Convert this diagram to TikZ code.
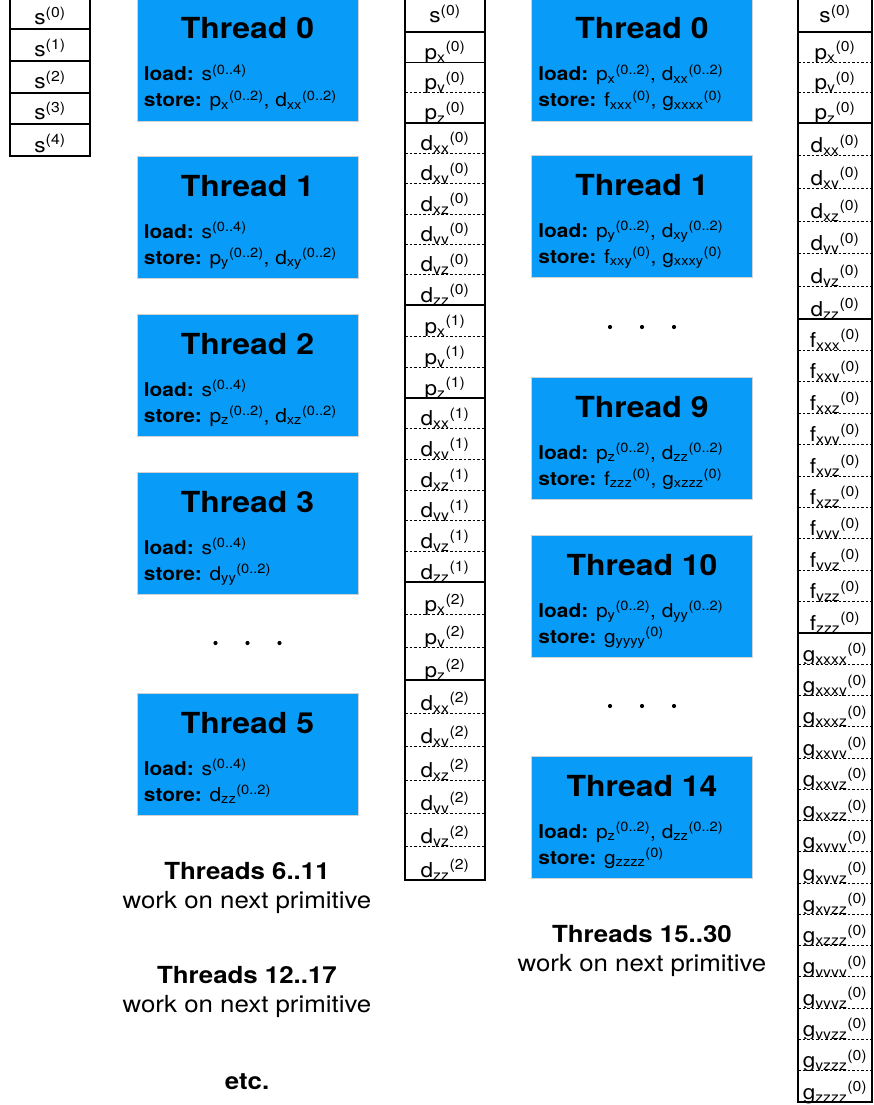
\documentclass[tikz,border=0pt]{standalone}
\usepackage{fontspec}
\setmainfont{TeX Gyre Heros}[FakeStretch=1.1]
\usetikzlibrary{positioning}
\definecolor{threadblue}{RGB}{8,155,248}

% one array element: letter, components, index
\newcommand{\ent}[3]{#1\textsubscript{#2}\textsuperscript{(#3)}}
% left, right, top, bottom, rows, text gap, labels
\newcommand{\cellgroup}[7]{%
  \pgfmathsetmacro{\rowh}{(#4-#3)/#5}
  \foreach \lab [count=\i] in {#7} {
    \pgfmathsetmacro{\ya}{#3+(\i-1)*\rowh}
    \pgfmathsetmacro{\yb}{#3+\i*\rowh}
    \fill[white] (#1,\ya) rectangle (#2,\yb);
    \node[cell] at ({(#1+#2)/2},\yb-#6) {\lab};
  }
  \ifnum#5>1
    \foreach \i in {2,...,#5} {
      \draw[sep] (#1,{#3+(\i-1)*\rowh}) -- (#2,{#3+(\i-1)*\rowh});
    }
  \fi
  \draw[grp] (#1,#3) rectangle (#2,#4);
}

\begin{document}
\begin{tikzpicture}[x=1pt, y=-1pt,
    cell/.style={anchor=base, inner sep=0pt, font=\fontsize{20.5}{22}\selectfont},
    sep/.style={line width=0.9pt, dash pattern=on 2.5pt off 2pt},
    grp/.style={line width=2pt},
    outer/.style={line width=2.6pt},
    tbox/.style={rectangle, anchor=north, fill=threadblue, draw=gray!35, line width=0.6pt,
                 minimum width=221pt, minimum height=122pt, inner sep=0pt},
    ttitle/.style={anchor=base, inner sep=0pt, font=\fontsize{29}{31}\selectfont\bfseries},
    tline/.style={anchor=base west, inner sep=0pt, font=\fontsize{19}{22}\selectfont},
    note/.style={align=center, inner sep=0pt, font=\fontsize{23.5}{29}\selectfont}]
\useasboundingbox (0,0) rectangle (873,1105);

% Input array s
\foreach \ta/\tb/\k in {-3/29/0, 29/61/1, 61/93/2, 93/124/3, 124/156/4} {
  \cellgroup{10}{90}{\ta}{\tb}{1}{4}{{s\textsuperscript{(\k)}}}
}
\draw[outer] (10,-3) rectangle (90,156);

% Middle array: s, p, d for three primitives
\cellgroup{405}{485}{-3}{32}{1}{9}{{s\textsuperscript{(0)}}}
\foreach \k/\pa/\pb/\db in {0/32/123/305, 1/305/398/582, 2/582/680/880} {
  \cellgroup{405}{485}{\pa}{\pb}{3}{3}{\ent{p}{x}{\k},\ent{p}{y}{\k},\ent{p}{z}{\k}}
  \cellgroup{405}{485}{\pb}{\db}{6}{3}{\ent{d}{xx}{\k},\ent{d}{xy}{\k},\ent{d}{xz}{\k},\ent{d}{yy}{\k},\ent{d}{yz}{\k},\ent{d}{zz}{\k}}
}
\draw[line width=1pt] (405,62.3) -- (485,62.3);
\draw[outer] (405,-3) rectangle (485,880);

% Right array: s, p, d, f, g
\cellgroup{798}{872}{-3}{32}{1}{9}{{s\textsuperscript{(0)}}}
\cellgroup{798}{872}{32}{123}{3}{3}{\ent{p}{x}{0},\ent{p}{y}{0},\ent{p}{z}{0}}
\cellgroup{798}{872}{123}{319}{6}{3}{\ent{d}{xx}{0},\ent{d}{xy}{0},\ent{d}{xz}{0},\ent{d}{yy}{0},\ent{d}{yz}{0},\ent{d}{zz}{0}}
\cellgroup{798}{872}{319}{633}{10}{3}{\ent{f}{xxx}{0},\ent{f}{xxy}{0},\ent{f}{xxz}{0},\ent{f}{xyy}{0},\ent{f}{xyz}{0},\ent{f}{xzz}{0},\ent{f}{yyy}{0},\ent{f}{yyz}{0},\ent{f}{yzz}{0},\ent{f}{zzz}{0}}
\cellgroup{798}{872}{633}{1102}{15}{3}{\ent{g}{xxxx}{0},\ent{g}{xxxy}{0},\ent{g}{xxxz}{0},\ent{g}{xxyy}{0},\ent{g}{xxyz}{0},\ent{g}{xxzz}{0},\ent{g}{xyyy}{0},\ent{g}{xyyz}{0},\ent{g}{xyzz}{0},\ent{g}{xzzz}{0},\ent{g}{yyyy}{0},\ent{g}{yyyz}{0},\ent{g}{yyzz}{0},\ent{g}{yzzz}{0},\ent{g}{zzzz}{0}}
\draw[outer] (798,-3) rectangle (872,1102);

% Thread boxes
\foreach \nm/\cx/\ty/\ttl/\ld/\st in {
    tl0/247.5/-1/{Thread 0}/{s\textsuperscript{(0..4)}}/{\ent{p}{x}{0..2}, \ent{d}{xx}{0..2}},
    tl1/247.5/156/{Thread 1}/{s\textsuperscript{(0..4)}}/{\ent{p}{y}{0..2}, \ent{d}{xy}{0..2}},
    tl2/247.5/314/{Thread 2}/{s\textsuperscript{(0..4)}}/{\ent{p}{z}{0..2}, \ent{d}{xz}{0..2}},
    tl3/247.5/472/{Thread 3}/{s\textsuperscript{(0..4)}}/{\ent{d}{yy}{0..2}},
    tl5/247.5/693/{Thread 5}/{s\textsuperscript{(0..4)}}/{\ent{d}{zz}{0..2}},
    tr0/642/-1/{Thread 0}/{\ent{p}{x}{0..2}, \ent{d}{xx}{0..2}}/{\ent{f}{xxx}{0}, \ent{g}{xxxx}{0}},
    tr1/642/155/{Thread 1}/{\ent{p}{y}{0..2}, \ent{d}{xy}{0..2}}/{\ent{f}{xxy}{0}, \ent{g}{xxxy}{0}},
    tr9/642/377/{Thread 9}/{\ent{p}{z}{0..2}, \ent{d}{zz}{0..2}}/{\ent{f}{zzz}{0}, \ent{g}{xzzz}{0}},
    tr10/642/535/{Thread 10}/{\ent{p}{y}{0..2}, \ent{d}{yy}{0..2}}/{\ent{g}{yyyy}{0}},
    tr14/642/756/{Thread 14}/{\ent{p}{z}{0..2}, \ent{d}{zz}{0..2}}/{\ent{g}{zzzz}{0}}} {
  \node[tbox] (\nm) at (\cx,\ty) {};
  \node[ttitle] (\nm-t) at ([yshift=-40pt]\nm.north) {\ttl};
  \node[tline] (\nm-l) at ([xshift=7pt, yshift=-82pt]\nm.north west) {\textbf{load:} \ld};
  \node[tline] (\nm-s) at ([xshift=7pt, yshift=-108pt]\nm.north west) {\textbf{store:} \st};
}

% Ellipses
\foreach \cx/\cy in {247.5/643, 642/327, 642/706} {
  \foreach \dx in {-32,0,32} {
    \fill (\cx+\dx,\cy) circle (2.1);
  }
}

% Notes
\node[note] (more1) at (247,888) {\textbf{Threads 6..11}\\work on next primitive};
\node[note] (more2) at (247,992) {\textbf{Threads 12..17}\\work on next primitive};
\node[note] (etc) at (247,1082) {\textbf{etc.}};
\node[note] (more3) at (642,951) {\textbf{Threads 15..30}\\work on next primitive};
\end{tikzpicture}
\end{document}
